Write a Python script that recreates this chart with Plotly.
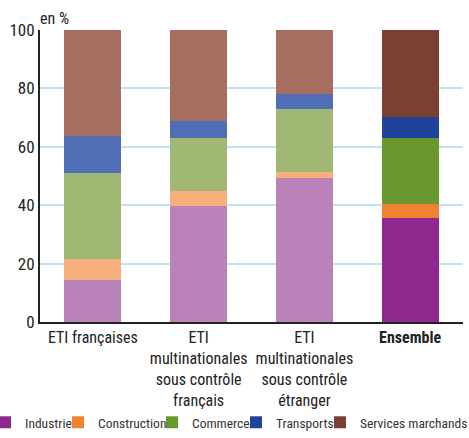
import plotly.graph_objects as go

categories = ["ETI françaises",
              "ETI<br>multinationales<br>sous contrôle<br>français",
              "ETI<br>multinationales<br>sous contrôle<br>étranger",
              "<b>Ensemble</b>"]
series_names = ["Industrie", "Construction", "Commerce", "Transports", "Services marchands"]
industrie = [14.5, 39.6, 49.2, 35.5]
construction = [7.2, 5.1, 2.1, 4.8]
commerce = [29.2, 18.2, 21.6, 22.6]
transports = [12.7, 5.9, 5.1, 7.2]
services = [36.4, 31.2, 22.0, 29.9]
y_ticks = [0, 20, 40, 60, 80, 100]

light_colors = ["#B983B9", "#F7AF7B", "#A0B874", "#506EB6", "#A66E60"]
dark_colors = ["#8E278E", "#F28232", "#6A982E", "#1F429B", "#7A4034"]

FONT = "Liberation Sans Narrow, Roboto Condensed, Arial Narrow, sans-serif"

fig = go.Figure()
values = [industrie, construction, commerce, transports, services]
for name, vals, lc, dc in zip(series_names, values, light_colors, dark_colors):
    fig.add_trace(go.Bar(
        x=categories, y=vals, name=name,
        marker=dict(color=[lc, lc, lc, dc], line=dict(width=0)),
        showlegend=False, hoverinfo="y+name"))

legend_ids = ["legend", "legend2", "legend3", "legend4", "legend5"]
legend_x = [-0.1300, 0.0426, 0.2648, 0.4634, 0.6619]
for name, dc, lid in zip(series_names, dark_colors, legend_ids):
    fig.add_trace(go.Bar(x=[None], y=[None], name=name, legend=lid,
                         marker=dict(color=dc, line=dict(width=0)), showlegend=True))

legend_layout = {}
for lid, lx in zip(legend_ids, legend_x):
    legend_layout[lid] = dict(orientation="h", x=lx, xanchor="left", yref="container",
                              y=-0.016, yanchor="bottom", bgcolor="rgba(0,0,0,0)",
                              font=dict(size=13.5, color="#333333"), itemwidth=30)

fig.update_layout(
    barmode="stack",
    bargap=0.46,
    width=469, height=438,
    margin=dict(l=40, r=6, t=30, b=116, autoexpand=False),
    paper_bgcolor="white", plot_bgcolor="white",
    font=dict(family=FONT, size=16, color="#333333"),
    xaxis=dict(showline=True, linecolor="#222222", linewidth=2, ticks="",
               tickfont=dict(size=16, color="#222222"), showgrid=False, fixedrange=True),
    yaxis=dict(range=[0, 100], tickvals=y_ticks, showline=True, linecolor="#222222",
               linewidth=2, gridcolor="#BFE2F4", gridwidth=1.5, zeroline=False,
               tickfont=dict(size=17, color="#222222"), ticks="", ticklen=0,
               fixedrange=True),
    annotations=[dict(text="en %", xref="paper", yref="paper", x=-0.005, y=1.0,
                      xanchor="left", yanchor="bottom", showarrow=False,
                      font=dict(size=16, color="#222222"))],
    **legend_layout,
)
fig.write_html("out.html", config={"displayModeBar": False},
               post_script="document.body.style.margin='0';document.body.style.overflow='hidden';")
